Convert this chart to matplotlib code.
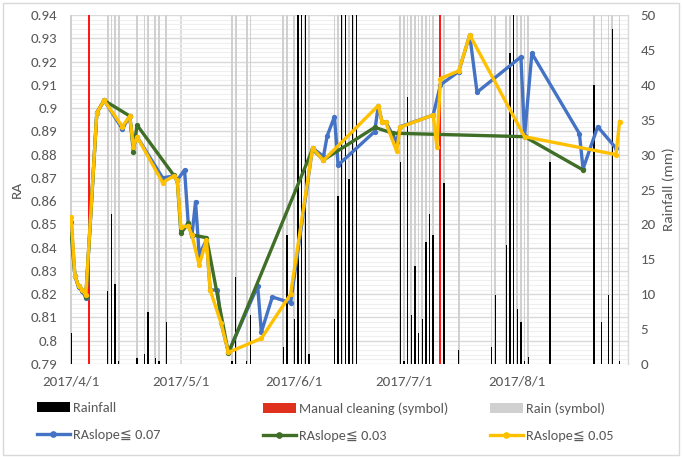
import matplotlib
matplotlib.use('Agg')
import matplotlib.pyplot as plt
import matplotlib.dates as mdates
import matplotlib.ticker as mticker
import numpy as np
import pandas as pd
from matplotlib.lines import Line2D
from matplotlib.patches import Patch, Rectangle

plt.rcParams['font.family'] = ['Carlito', 'Lato', 'DejaVu Sans']

# ---------------- data ----------------
rain_dates = ['2017-04-01', '2017-04-11', '2017-04-12', '2017-04-13', '2017-04-14', '2017-04-19',
              '2017-04-21', '2017-04-22', '2017-04-24', '2017-04-25', '2017-04-27', '2017-05-15',
              '2017-05-16', '2017-05-19', '2017-05-20', '2017-05-29', '2017-05-30', '2017-06-01',
              '2017-06-02', '2017-06-03', '2017-06-04', '2017-06-05', '2017-06-12', '2017-06-13',
              '2017-06-14', '2017-06-15', '2017-06-16', '2017-06-17', '2017-06-18', '2017-06-30',
              '2017-07-01', '2017-07-02', '2017-07-03', '2017-07-04', '2017-07-05', '2017-07-06',
              '2017-07-07', '2017-07-08', '2017-07-09', '2017-07-12', '2017-07-16', '2017-07-25',
              '2017-07-26', '2017-07-29', '2017-07-30', '2017-07-31', '2017-08-01', '2017-08-02',
              '2017-08-03', '2017-08-04', '2017-08-10', '2017-08-22', '2017-08-24', '2017-08-26',
              '2017-08-27', '2017-08-29']
rain_mm = [4.5, 10.5, 21.5, 11.5, 0.5, 0.9, 1.4, 7.5, 0.9, 0.5, 6.0, 0.4,
           12.5, 0.4, 7.0, 2.5, 18.5, 6.4, 62, 62, 62, 1.4, 6.4, 24,
           62, 62, 26.5, 62, 62, 29, 0.4, 38.2, 7, 14, 4.5, 6.4,
           17.5, 21.5, 18.5, 26, 2.0, 2.4, 9.9, 17, 44.5, 62, 7.9, 6,
           0.5, 1, 29, 40, 6, 9.9, 48, 0.5]
rain_symbol_value = 50
cleaning_dates = ['2017-04-06', '2017-07-11']

blue_dates = ['2017-04-01', '2017-04-02', '2017-04-03', '2017-04-04', '2017-04-05', '2017-04-08',
              '2017-04-10', '2017-04-15', '2017-04-17', '2017-04-18', '2017-04-19', '2017-04-26',
              '2017-04-29', '2017-04-30', '2017-05-02', '2017-05-03', '2017-05-04', '2017-05-05',
              '2017-05-06', '2017-05-08', '2017-05-09', '2017-05-11', '2017-05-12', '2017-05-14',
              '2017-05-22', '2017-05-23', '2017-05-26', '2017-05-31', '2017-06-06', '2017-06-09',
              '2017-06-10', '2017-06-12', '2017-06-13', '2017-06-23', '2017-06-24', '2017-06-25',
              '2017-06-26', '2017-06-29', '2017-06-30', '2017-07-09', '2017-07-11', '2017-07-16',
              '2017-07-19', '2017-07-21', '2017-08-02', '2017-08-03', '2017-08-05', '2017-08-18',
              '2017-08-19', '2017-08-23', '2017-08-28']
blue_ra = [0.851, 0.828, 0.823, 0.8215, 0.8185, 0.898, 0.9033, 0.891, 0.8966, 0.8834, 0.8877, 0.870,
           0.8708, 0.869, 0.8734, 0.8505, 0.845, 0.8597, 0.837, 0.8433, 0.8218, 0.8218, 0.8075, 0.795,
           0.8235, 0.8037, 0.8188, 0.8163, 0.8828, 0.8792, 0.888, 0.8963, 0.8755, 0.8899, 0.9011, 0.8942,
           0.8939, 0.8856, 0.892, 0.897, 0.910, 0.9157, 0.9314, 0.9068, 0.922, 0.888, 0.9235, 0.889,
           0.8739, 0.892, 0.8828]

green_dates = ['2017-04-01', '2017-04-02', '2017-04-03', '2017-04-04', '2017-04-05', '2017-04-08',
               '2017-04-10', '2017-04-17', '2017-04-18', '2017-04-19', '2017-04-29', '2017-04-30',
               '2017-05-01', '2017-05-03', '2017-05-04', '2017-05-08', '2017-05-14', '2017-06-06',
               '2017-06-09', '2017-06-23', '2017-06-28', '2017-08-03', '2017-08-19']
green_ra = [0.8457, 0.828, 0.8235, 0.822, 0.819, 0.898, 0.9033, 0.8966, 0.8813, 0.8927, 0.8712, 0.869,
            0.8462, 0.8505, 0.8455, 0.8443, 0.7946, 0.8823, 0.8777, 0.8917, 0.8892, 0.8877, 0.8734]

yellow_dates = ['2017-04-01', '2017-04-02', '2017-04-03', '2017-04-04', '2017-04-05', '2017-04-08',
                '2017-04-10', '2017-04-15', '2017-04-17', '2017-04-18', '2017-04-19', '2017-04-26',
                '2017-04-29', '2017-04-30', '2017-05-01', '2017-05-03', '2017-05-04', '2017-05-06',
                '2017-05-08', '2017-05-09', '2017-05-12', '2017-05-14', '2017-05-23', '2017-05-31',
                '2017-06-06', '2017-06-09', '2017-06-24', '2017-06-25', '2017-06-26', '2017-06-29',
                '2017-06-30', '2017-07-09', '2017-07-10', '2017-07-11', '2017-07-16', '2017-07-19',
                '2017-08-03', '2017-08-28', '2017-08-29']
yellow_ra = [0.853, 0.828, 0.8235, 0.822, 0.8195, 0.898, 0.9033, 0.892, 0.8966, 0.8834, 0.8877, 0.868,
             0.8708, 0.869, 0.8488, 0.8493, 0.8455, 0.8325, 0.8433, 0.8218, 0.8075, 0.795, 0.801, 0.820,
             0.8828, 0.8775, 0.9011, 0.8942, 0.8939, 0.8815, 0.8918, 0.897, 0.8834, 0.9127, 0.916, 0.9314,
             0.8877, 0.880, 0.8942]

series_labels = ['RAslope\u2266 0.07', 'RAslope\u2266 0.03', 'RAslope\u2266 0.05']
x_tick_months = ['2017-04-01', '2017-05-01', '2017-06-01', '2017-07-01', '2017-08-01']

# ---------------- styling ----------------
RA_MIN, RA_MAX = 0.79, 0.94
MM_MAX = 50.0
TXT = '#595959'
GRID = '#d9d9d9'
BLUE, GREEN, YELLOW = '#4472C4', '#3f6e27', '#FFC000'
SYMB_GRAY = '#d0d0d0'
RED = '#ff0000'


def mm2ra(m):
    return RA_MIN + np.asarray(m, dtype=float) * (RA_MAX - RA_MIN) / MM_MAX


def ra2mm(v):
    return (np.asarray(v, dtype=float) - RA_MIN) / (RA_MAX - RA_MIN) * MM_MAX


fig = plt.figure(figsize=(6.82, 4.57), dpi=100)
ax = fig.add_axes([70 / 682, 1 - 364 / 457, (628 - 70) / 682, (364 - 15) / 457])

rd = pd.to_datetime(rain_dates)
cd = pd.to_datetime(cleaning_dates)

# rain symbol (gray full-height columns)
ax.bar(rd, mm2ra(np.full(len(rd), rain_symbol_value)) - RA_MIN, bottom=RA_MIN,
       width=0.45, color=SYMB_GRAY, zorder=1.5, linewidth=0)
# manual cleaning symbol (red)
ax.vlines(cd, RA_MIN, mm2ra(np.full(len(cd), rain_symbol_value)), colors=RED,
          lw=1.3, zorder=1.7)
# rainfall columns
ax.bar(rd, mm2ra(rain_mm) - RA_MIN, bottom=RA_MIN, width=0.38, color='#000000',
       zorder=2, linewidth=0)

for dts, vals, col, z in [(blue_dates, blue_ra, BLUE, 5), (green_dates, green_ra, GREEN, 6),
                          (yellow_dates, yellow_ra, YELLOW, 7)]:
    ax.plot(pd.to_datetime(dts), vals, color=col, lw=2.4, marker='o', ms=3.8,
            markeredgewidth=0, zorder=z, solid_joinstyle='round')

start = pd.Timestamp('2017-04-01') - pd.Timedelta(hours=8)
end = pd.Timestamp('2017-08-31') + pd.Timedelta(hours=7)
ax.set_xlim(start, end)
ax.set_ylim(RA_MIN, RA_MAX)

ax.set_xticks(pd.to_datetime(x_tick_months))
ax.xaxis.set_major_formatter(mticker.FuncFormatter(
    lambda v, p: (lambda d: f"{d.year}/{d.month}/{d.day}")(mdates.num2date(v))))
ax.set_yticks(np.round(np.arange(RA_MIN, RA_MAX + 1e-9, 0.01), 2))
ax.yaxis.set_major_formatter(mticker.FuncFormatter(
    lambda v, p: f"{v:.2f}".rstrip('0').rstrip('.')))
ax.yaxis.set_minor_locator(mticker.MultipleLocator(0.002))

ax.grid(axis='y', which='major', color=GRID, lw=1.0, zorder=0)
ax.grid(axis='y', which='minor', color='#efefef', lw=0.8, zorder=0)
ax.grid(axis='x', which='major', color=GRID, lw=1.3, zorder=0)
ax.set_axisbelow(True)

for name, s in ax.spines.items():
    s.set_visible(name == 'right')
ax.spines['right'].set_color(GRID)
ax.spines['right'].set_linewidth(1.0)
ax.tick_params(axis='both', which='both', length=0, colors=TXT, labelsize=10.8)
ax.tick_params(axis='y', pad=9)
ax.tick_params(axis='x', pad=8)
ax.set_ylabel('RA', color=TXT, fontsize=11, labelpad=6)

sec = ax.secondary_yaxis('right', functions=(ra2mm, mm2ra))
sec.set_yticks(np.arange(0, 51, 5))
sec.tick_params(length=0, colors=TXT, labelsize=10.8, pad=9)
for s in sec.spines.values():
    s.set_visible(False)
sec.set_ylabel('Rainfall (mm)', color=TXT, fontsize=11, labelpad=5)

# legend: three columns
cols = [
    ([Patch(facecolor='#000000', edgecolor='none'),
      Line2D([], [], color=BLUE, lw=2.4, marker='o', ms=3.8)],
     ['Rainfall', series_labels[0]], 37),
    ([Patch(facecolor='#e0301e', edgecolor='none'),
      Line2D([], [], color=GREEN, lw=2.4, marker='o', ms=3.8)],
     ['Manual cleaning (symbol)', series_labels[1]], 263),
    ([Patch(facecolor=SYMB_GRAY, edgecolor='none'),
      Line2D([], [], color=YELLOW, lw=2.4, marker='o', ms=3.8)],
     ['Rain (symbol)', series_labels[2]], 490),
]
for handles, labels, xpx in cols:
    leg = fig.legend(handles, labels, loc='upper left', bbox_to_anchor=(xpx / 682, 1 - 402 / 457),
                     frameon=False, borderaxespad=0, borderpad=0, handlelength=2.3,
                     handletextpad=0.25, labelspacing=1.05, fontsize=10.3, handleheight=0.7)
    for t in leg.get_texts():
        t.set_color(TXT)

fig.add_artist(Rectangle((0.004, 0.004), 0.992, 0.99, transform=fig.transFigure,
                         fill=False, edgecolor=GRID, lw=1))

fig.savefig('out.png', dpi=100)
